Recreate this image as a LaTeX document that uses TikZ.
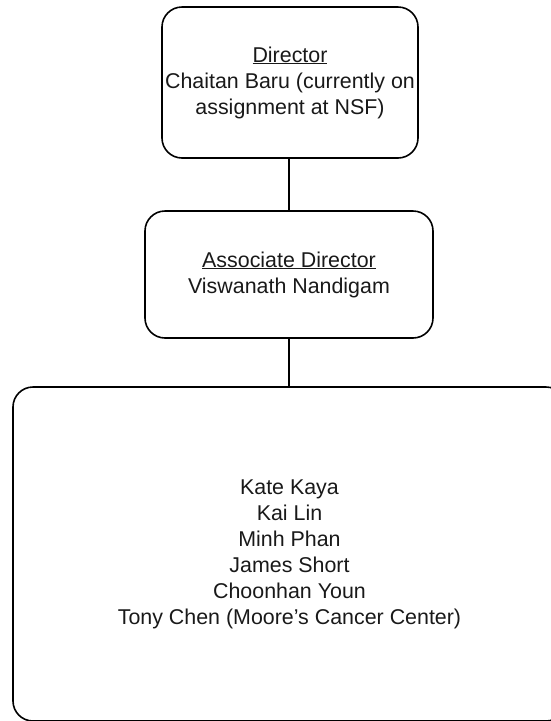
\documentclass[tikz,border=0pt]{standalone}
\usepackage{fontspec}
\setmainfont{Liberation Sans}
\begin{document}
\begin{tikzpicture}[x=1pt,y=-1pt,
  orgbox/.style={draw=black, line width=1.6pt, rounded corners=20pt, align=center,
    inner sep=0pt, font=\fontsize{21.4}{26}\selectfont, text=black!90},
  link/.style={draw=black, line width=1.6pt}]
\useasboundingbox (0,0) rectangle (551,721);
\clip (0,0) rectangle (551,721);
\node[orgbox, minimum width=256pt, minimum height=151pt] (dir) at (290,82.5)
  {\underline{Director}\\Chaitan Baru (currently on\\assignment at NSF)};
\node[orgbox, minimum width=288pt, minimum height=127pt] (assoc) at (289,274.5)
  {\underline{Associate Director}\\Viswanath Nandigam};
\node[orgbox, minimum width=553pt, minimum height=334pt] (staff) at (289.5,554)
  {Kate Kaya\\Kai Lin\\Minh Phan\\James Short\\Choonhan Youn\\Tony Chen (Moore’s Cancer Center)};
\draw[link] (dir.south -| assoc.north) -- (assoc.north);
\draw[link] (assoc.south) -- (staff.north -| assoc.south);
\end{tikzpicture}
\end{document}
